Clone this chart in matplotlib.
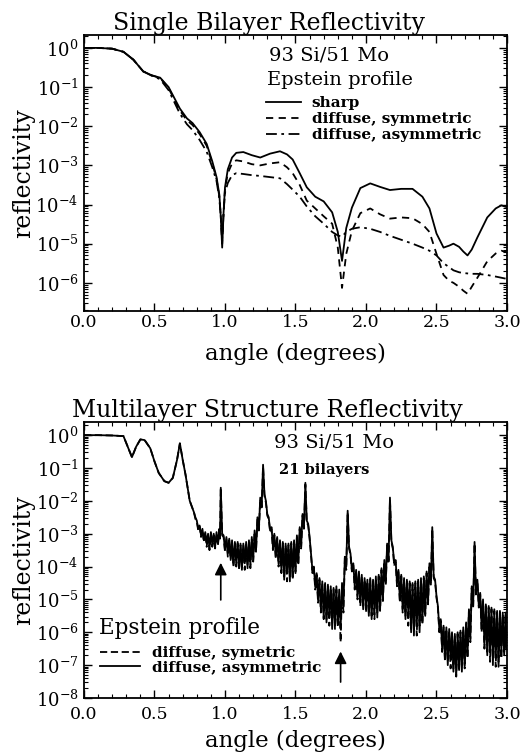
"""
Reflectivity of a 93 Si / 51 Mo bilayer and of the 21-bilayer stack,
Epstein interface profiles. Values are log10(reflectivity) read off the plot.
"""

import numpy as np
import matplotlib
matplotlib.use("Agg")
import matplotlib.pyplot as plt
from matplotlib.ticker import MultipleLocator, LogLocator, NullFormatter

# ---- single bilayer (top panel) ----
SINGLE_ANGLE = [0.00, 0.10, 0.20, 0.28, 0.35, 0.42, 0.48, 0.54, 0.60, 0.68,
                0.73, 0.77, 0.82, 0.87, 0.91, 0.94, 0.96, 0.97, 0.98, 0.99,
                1.00, 1.02, 1.05, 1.08, 1.13, 1.19, 1.25, 1.32, 1.39, 1.44,
                1.48, 1.53, 1.58, 1.64, 1.70, 1.76, 1.80, 1.83, 1.86, 1.90,
                1.96, 2.03, 2.10, 2.17, 2.25, 2.33, 2.40, 2.45, 2.50, 2.55,
                2.59, 2.62, 2.66, 2.69, 2.72, 2.75, 2.79, 2.86, 2.92, 2.96, 3.00]
SINGLE_SHARP = [0.0, 0.0, -0.02, -0.1, -0.3, -0.6, -0.7, -0.76, -1.0, -1.55,
                -1.8, -1.92, -2.15, -2.45, -2.9, -3.3, -3.75, -4.3, -5.1, -4.2,
                -3.56, -3.1, -2.8, -2.68, -2.66, -2.74, -2.8, -2.7, -2.64, -2.72,
                -2.85, -3.2, -3.56, -3.8, -3.92, -4.2, -4.7, -5.44, -4.6, -4.08,
                -3.58, -3.46, -3.55, -3.63, -3.6, -3.6, -3.8, -4.1, -4.74, -5.1,
                -5.05, -5.0, -5.08, -5.2, -5.3, -5.15, -4.84, -4.33, -4.1, -4.02, -4.07]
SINGLE_SYM = [0.0, 0.0, -0.02, -0.1, -0.3, -0.6, -0.7, -0.77, -1.03, -1.6,
              -1.85, -1.97, -2.2, -2.5, -2.95, -3.35, -3.8, -4.3, -5.0, -4.2,
              -3.6, -3.2, -2.95, -2.87, -2.9, -2.97, -3.0, -2.95, -2.92, -3.05,
              -3.2, -3.5, -3.9, -4.1, -4.3, -4.49, -5.1, -6.13, -5.26, -4.67,
              -4.22, -4.1, -4.25, -4.36, -4.33, -4.35, -4.5, -4.7, -5.26, -5.8,
              -5.95, -6.0, -6.1, -6.2, -6.28, -6.1, -5.87, -5.45, -5.25, -5.18, -5.22]
SINGLE_ASYM = [0.0, 0.0, -0.02, -0.1, -0.3, -0.6, -0.71, -0.8, -1.08, -1.68,
               -1.95, -2.1, -2.35, -2.65, -3.05, -3.4, -3.85, -4.3, -4.9, -4.2,
               -3.7, -3.45, -3.25, -3.2, -3.22, -3.25, -3.27, -3.3, -3.33, -3.48,
               -3.62, -3.8, -4.05, -4.3, -4.49, -4.7, -4.79, -4.82, -4.7, -4.62,
               -4.58, -4.62, -4.7, -4.8, -4.9, -5.0, -5.1, -5.18, -5.3, -5.5,
               -5.6, -5.68, -5.73, -5.75, -5.76, -5.77, -5.77, -5.8, -5.84, -5.87, -5.9]

# ---- 21-bilayer stack (bottom panel) ----
# smooth low-angle part, shared by both profiles
MULTI_LOW_ANGLE = [0.00, 0.10, 0.20, 0.28, 0.31, 0.34, 0.37, 0.40, 0.43, 0.47,
                   0.50, 0.53, 0.57, 0.60, 0.63, 0.66, 0.68, 0.70, 0.72, 0.75]
MULTI_LOW = [0.0, 0.0, -0.01, -0.03, -0.35, -0.67, -0.35, -0.13, -0.15, -0.4,
             -0.8, -1.15, -1.4, -1.45, -1.3, -0.75, -0.25, -0.75, -1.2, -2.0]

# fringe region: upper (fringe maxima) and lower (fringe minima) values
MULTI_ANGLE = [0.78, 0.80, 0.82, 0.84, 0.86, 0.88, 0.90, 0.92, 0.94, 0.96, 0.97,
               0.99, 1.01, 1.03, 1.05, 1.07, 1.09, 1.11, 1.13, 1.15, 1.17, 1.19, 1.21, 1.23, 1.25, 1.27,
               1.29, 1.31, 1.33, 1.35, 1.37, 1.39, 1.41, 1.43, 1.45, 1.47, 1.49, 1.51, 1.53, 1.55, 1.57,
               1.59, 1.61, 1.63, 1.65, 1.67, 1.69, 1.71, 1.73, 1.75, 1.77, 1.79, 1.81, 1.83, 1.85, 1.87,
               1.89, 1.91, 1.93, 1.95, 1.97, 1.99, 2.01, 2.03, 2.05, 2.07, 2.09, 2.11, 2.13, 2.15, 2.17,
               2.19, 2.21, 2.23, 2.25, 2.27, 2.29, 2.31, 2.33, 2.35, 2.37, 2.39, 2.41, 2.43, 2.45, 2.47,
               2.49, 2.51, 2.53, 2.55, 2.57, 2.59, 2.61, 2.63, 2.65, 2.67, 2.69, 2.71, 2.73, 2.75, 2.77,
               2.79, 2.81, 2.83, 2.85, 2.87, 2.89, 2.91, 2.93, 2.95, 2.97, 2.99]

ASYM_UPPER = [-2.35, -2.6, -2.75, -2.85, -2.95, -3.0, -2.95, -3.0, -2.95, -2.85, -1.6,
              -3.05, -3.1, -3.15, -3.2, -3.25, -3.25, -3.3, -3.3, -3.25, -3.2, -3.1, -2.9, -2.5, -1.9, -0.9,
              -2.0, -2.5, -2.8, -3.0, -3.1, -3.2, -3.25, -3.3, -3.3, -3.25, -3.2, -3.05, -2.8, -2.4, -1.45,
              -2.7, -3.6, -4.0, -4.2, -4.35, -4.45, -4.5, -4.55, -4.6, -4.65, -4.6, -4.7, -4.5, -3.7, -2.3,
              -3.6, -3.9, -4.1, -4.15, -4.25, -4.35, -4.4, -4.35, -4.4, -4.3, -4.25, -4.05, -3.8, -3.3, -1.9,
              -3.4, -3.8, -4.1, -4.25, -4.35, -4.4, -4.45, -4.5, -4.45, -4.4, -4.35, -4.3, -4.15, -3.9, -2.8,
              -4.4, -5.2, -5.6, -5.8, -5.85, -5.9, -6.0, -6.05, -6.0, -5.95, -5.85, -5.7, -5.3, -4.6, -3.25,
              -4.4, -4.8, -5.0, -5.15, -5.2, -5.25, -5.3, -5.35, -5.35, -5.4, -5.4]
ASYM_LOWER = [-2.5, -2.85, -3.05, -3.2, -3.3, -3.45, -3.35, -3.4, -3.3, -3.1, -3.0,
              -3.5, -3.6, -3.75, -3.95, -3.9, -4.05, -4.1, -3.9, -4.05, -3.95, -3.8, -3.5, -2.9, -2.2, -1.8,
              -2.4, -2.9, -3.4, -3.7, -3.9, -4.1, -4.4, -4.2, -4.45, -4.3, -4.2, -3.9, -3.4, -2.8, -2.6,
              -3.1, -4.1, -4.6, -5.0, -5.3, -5.55, -5.7, -5.5, -5.9, -5.8, -5.75, -5.9, -5.2, -4.0, -3.4,
              -4.1, -4.6, -4.9, -5.1, -5.3, -5.15, -5.5, -5.6, -5.4, -5.55, -5.3, -5.0, -4.5, -3.8, -3.2,
              -3.9, -4.5, -5.0, -5.3, -5.6, -5.4, -6.0, -6.1, -5.8, -6.0, -5.7, -5.5, -5.1, -4.5, -4.3,
              -4.9, -5.9, -6.5, -6.8, -7.0, -6.8, -7.2, -7.3, -7.1, -7.2, -7.0, -6.7, -6.2, -5.2, -4.8,
              -5.2, -5.9, -6.4, -6.7, -6.5, -7.0, -6.8, -7.05, -6.6, -6.7, -6.5]

SYM_UPPER = [-2.35, -2.62, -2.78, -2.88, -2.97, -3.05, -3.0, -3.05, -3.0, -2.9, -1.6,
             -3.1, -3.15, -3.2, -3.25, -3.3, -3.3, -3.35, -3.35, -3.3, -3.25, -3.15, -2.95, -2.55, -1.95, -0.95,
             -2.05, -2.55, -2.85, -3.05, -3.15, -3.25, -3.3, -3.35, -3.35, -3.3, -3.25, -3.1, -2.85, -2.45, -1.5,
             -2.75, -3.65, -4.05, -4.25, -4.4, -4.5, -4.55, -4.6, -4.65, -4.7, -4.7, -4.9, -4.6, -3.75, -2.35,
             -3.65, -3.95, -4.15, -4.2, -4.3, -4.4, -4.45, -4.4, -4.45, -4.35, -4.3, -4.1, -3.85, -3.35, -1.95,
             -3.45, -3.85, -4.15, -4.3, -4.4, -4.45, -4.5, -4.55, -4.5, -4.45, -4.4, -4.35, -4.2, -3.95, -2.85,
             -4.45, -5.25, -5.65, -5.85, -5.9, -5.95, -6.05, -6.1, -6.05, -6.0, -5.9, -5.75, -5.35, -4.65, -3.3,
             -4.45, -4.85, -5.05, -5.2, -5.25, -5.3, -5.35, -5.4, -5.4, -5.45, -5.45]
SYM_LOWER = [-2.55, -2.9, -3.1, -3.25, -3.4, -3.5, -3.4, -3.45, -3.35, -3.15, -3.05,
             -3.55, -3.7, -3.8, -4.0, -4.0, -4.1, -4.0, -4.1, -3.95, -4.05, -3.85, -3.55, -2.95, -2.25, -1.85,
             -2.45, -2.95, -3.5, -3.75, -4.0, -4.2, -4.3, -4.45, -4.3, -4.4, -4.15, -3.95, -3.45, -2.85, -2.65,
             -3.15, -4.2, -4.7, -5.1, -5.4, -5.6, -5.6, -5.8, -5.7, -5.9, -5.85, -6.3, -5.4, -4.1, -3.45,
             -4.15, -4.7, -5.0, -5.2, -5.2, -5.4, -5.45, -5.5, -5.6, -5.4, -5.35, -5.05, -4.55, -3.85, -3.25,
             -3.95, -4.6, -5.1, -5.4, -5.5, -5.8, -5.9, -5.85, -6.1, -5.8, -5.75, -5.45, -5.15, -4.55, -4.35,
             -4.95, -6.0, -6.6, -6.9, -6.9, -7.1, -7.1, -7.35, -7.2, -7.0, -7.1, -6.8, -6.3, -5.25, -4.85,
             -5.25, -6.0, -6.5, -6.6, -6.9, -6.8, -7.05, -6.9, -6.8, -6.6, -6.45]

ARROW_ANGLE = [0.97, 1.82]
ARROW_TIP = [-3.8, -6.5]
ARROW_TAIL = [-5.1, -7.6]

# decades labelled on each y axis
TOP_DECADES = [0, -1, -2, -3, -4, -5, -6]
BOTTOM_DECADES = [0, -1, -2, -3, -4, -5, -6, -7, -8]

plt.rcParams["font.family"] = ["DejaVu Serif"]
plt.rcParams["mathtext.fontset"] = "dejavuserif"


def zigzag(angles, upper, lower):
    """interleave fringe maxima and minima into one drawn path"""
    xs, ys = [], []
    for i, a in enumerate(angles):
        nxt = angles[i + 1] if i + 1 < len(angles) else a + 0.01
        xs += [a, (a + nxt) / 2]
        ys += [upper[i], lower[i]]
    return xs, ys


def style_axes(ax, ymin, ymax, decades, xpad):
    ax.set_xlim(0, 3)
    ax.set_yscale("log")
    ax.set_ylim(10 ** ymin, 10 ** ymax)
    ax.xaxis.set_major_locator(MultipleLocator(0.5))
    ax.xaxis.set_minor_locator(MultipleLocator(0.1))
    ax.xaxis.set_major_formatter(plt.FuncFormatter(lambda v, p: f"{v:.1f}"))
    ax.set_yticks([10.0 ** d for d in decades])
    ax.set_yticklabels([rf"$10^{{{d}}}$" for d in decades])
    ax.yaxis.set_minor_locator(LogLocator(base=10, subs=np.arange(2, 10), numticks=20))
    ax.yaxis.set_minor_formatter(NullFormatter())
    ax.set_ylim(10 ** ymin, 10 ** ymax)
    ax.tick_params(which="both", direction="in", top=True, right=True)
    ax.tick_params(axis="x", labelsize=12.5, pad=xpad)
    ax.tick_params(axis="y", labelsize=13, pad=4)
    ax.tick_params(which="major", length=6, width=1)
    ax.tick_params(which="minor", length=3, width=0.8)
    for s in ax.spines.values():
        s.set_linewidth(1.3)
    ax.set_xlabel("angle (degrees)", fontsize=16.5, labelpad=11 - xpad)
    ax.set_ylabel("reflectivity", fontsize=17, labelpad=0)


def main():
    fig = plt.figure(figsize=(5.23, 7.54), dpi=100)
    ax1 = fig.add_axes([0.1606, 0.5875, 0.8088, 0.3661])
    ax2 = fig.add_axes([0.1606, 0.0743, 0.8088, 0.3660])

    # top panel
    ax1.plot(SINGLE_ANGLE, 10.0 ** np.array(SINGLE_SHARP), "k-", lw=1.3, label="sharp")
    ax1.plot(SINGLE_ANGLE, 10.0 ** np.array(SINGLE_SYM), "k--", lw=1.3,
             dashes=(4, 3), label="diffuse, symmetric")
    ax1.plot(SINGLE_ANGLE, 10.0 ** np.array(SINGLE_ASYM), "k-.", lw=1.3,
             dashes=(6, 2.5, 1.5, 2.5), label="diffuse, asymmetric")
    style_axes(ax1, -6.72, 0.33, TOP_DECADES, 2)
    ax1.set_title("Single Bilayer Reflectivity", fontsize=17, pad=2, x=0.437)
    ax1.text(0.437, 0.96, "93 Si/51 Mo", transform=ax1.transAxes, fontsize=14,
             va="top", ha="left")
    ax1.text(0.432, 0.837, "Epstein profile", transform=ax1.transAxes, fontsize=14,
             va="center", ha="left")
    ax1.legend(loc="upper left", bbox_to_anchor=(0.43, 0.778), frameon=False,
               prop={"size": 11, "weight": "bold"}, handlelength=2.3,
               handletextpad=0.7, labelspacing=0.12, borderpad=0,
               borderaxespad=0)

    # bottom panel
    xs, ys = zigzag(MULTI_ANGLE, SYM_UPPER, SYM_LOWER)
    ax2.plot(MULTI_LOW_ANGLE + xs, 10.0 ** np.array(MULTI_LOW + ys), "k--", lw=1.3,
             dashes=(4, 2), label="diffuse, symetric")
    xs, ys = zigzag(MULTI_ANGLE, ASYM_UPPER, ASYM_LOWER)
    ax2.plot(MULTI_LOW_ANGLE + xs, 10.0 ** np.array(MULTI_LOW + ys), "k-", lw=1.3,
             label="diffuse, asymmetric")
    style_axes(ax2, -8.0, 0.4, BOTTOM_DECADES, 6)
    ax2.set_title("Multilayer Structure Reflectivity", fontsize=17, pad=2, x=0.434)
    ax2.text(0.45, 0.96, "93 Si/51 Mo", transform=ax2.transAxes, fontsize=14,
             va="top", ha="left")
    ax2.text(0.46, 0.85, "21 bilayers", transform=ax2.transAxes, fontsize=10.5,
             weight="bold", va="top", ha="left")
    for a, tip, tail in zip(ARROW_ANGLE, ARROW_TIP, ARROW_TAIL):
        ax2.annotate("", xy=(a, 10.0 ** tip), xytext=(a, 10.0 ** tail),
                     arrowprops=dict(arrowstyle="-|>", color="k", lw=1.2,
                                     mutation_scale=18))
    ax2.text(0.036, 0.254, "Epstein profile", transform=ax2.transAxes, fontsize=15.5,
             va="center", ha="left")
    ax2.legend(loc="lower left", bbox_to_anchor=(0.038, 0.085), frameon=False,
               prop={"size": 11, "weight": "bold"}, handlelength=2.6,
               handletextpad=0.8, labelspacing=0.03, borderpad=0, borderaxespad=0)

    fig.savefig("out.png", dpi=100)


if __name__ == "__main__":
    main()
